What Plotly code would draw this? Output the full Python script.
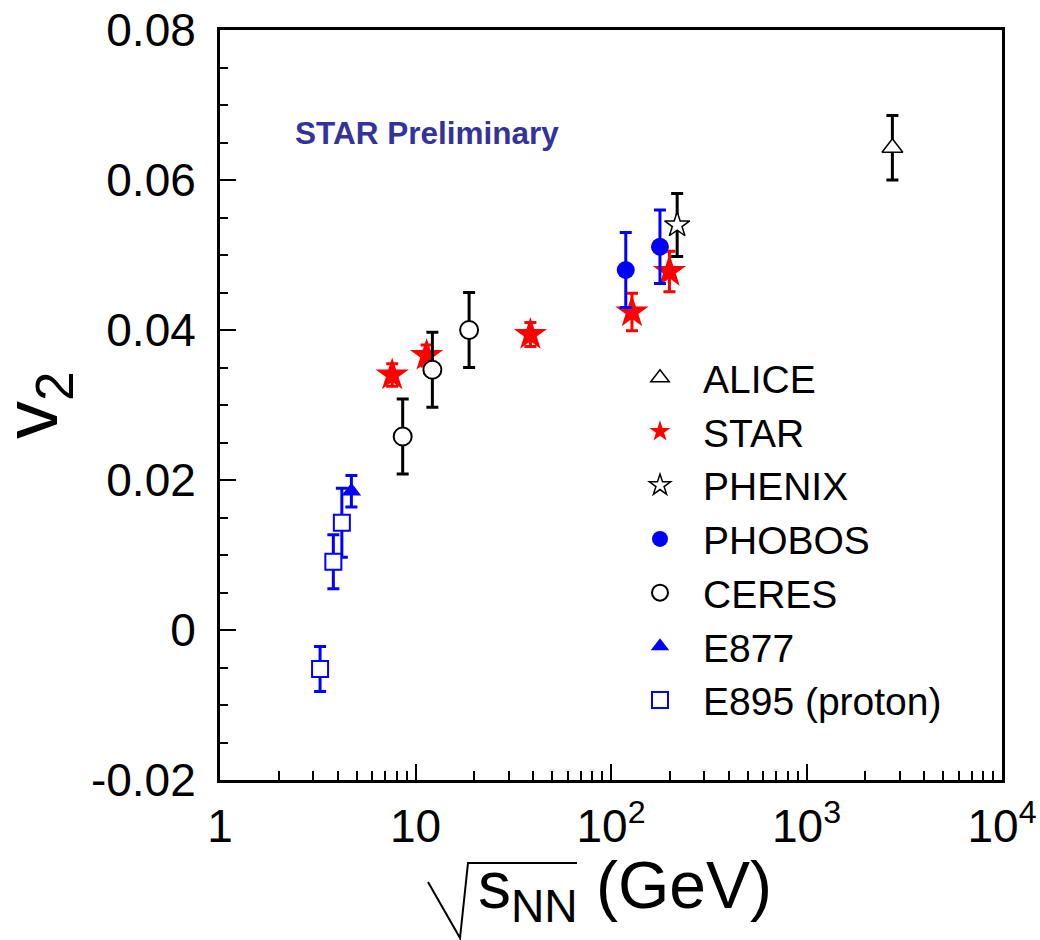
import plotly.graph_objects as go

# Elliptic flow v2 versus collision energy, several experiments
e895_x = [3.25, 3.8, 4.2]
e895_v2 = [-0.0052, 0.0091, 0.0143]
e895_err = [0.0030, 0.0036, 0.0046]

e877_x = [4.7]
e877_v2 = [0.0185]
e877_err = [0.0021]

star_x = [7.6, 11.4, 38.7, 128, 199]
star_v2 = [0.0340, 0.0366, 0.0394, 0.0424, 0.0478]
star_err = [0.0015, 0.0014, 0.0016, 0.0025, 0.0027]

ceres_x = [8.6, 12.2, 18.8]
ceres_v2 = [0.0258, 0.0347, 0.0400]
ceres_err = [0.0050, 0.0050, 0.0050]

phobos_x = [119, 178]
phobos_v2 = [0.0480, 0.0511]
phobos_err = [0.0050, 0.0049]

phenix_x = [218]
phenix_v2 = [0.0540]
phenix_err = [0.0042]

alice_x = [2750]
alice_v2 = [0.0643]
alice_err = [0.0043]

x_tickvals = [1, 10, 100, 1000, 10000]
x_ticktext = ["1", "10", "10<sup>2</sup>", "10<sup>3</sup>", "10<sup>4</sup>"]
x_minor = [m * d for d in (1, 10, 100, 1000) for m in range(2, 10)]
y_tickvals = [-0.02, 0.0, 0.02, 0.04, 0.06, 0.08]
y_ticktext = ["-0.02", "0", "0.02", "0.04", "0.06", "0.08"]
y_minor = [round(-0.02 + 0.005 * i, 3) for i in range(21)]

FONT = "Liberation Sans, Arial, Helvetica, sans-serif"
BLUE = "#0000ff"
RED = "#ff0000"


def series(name, x, y, err, color, symbol, size, fill, lw, rank):
    return go.Scatter(
        x=x, y=y, mode="markers", name=name, legendrank=rank,
        marker=dict(symbol=symbol, size=size, color=fill,
                    line=dict(color=color, width=lw)),
        error_y=dict(type="data", array=err, visible=True,
                     color=color, thickness=3, width=6),
    )


fig = go.Figure()
fig.add_trace(series("E895 (proton)", e895_x, e895_v2, e895_err, BLUE, "square", 16, "white", 2, 7))
fig.add_trace(series("E877", e877_x, e877_v2, e877_err, BLUE, "triangle-up", 17, BLUE, 0, 6))
fig.add_trace(series("STAR", star_x, star_v2, star_err, RED, "star", 25, RED, 0, 2))
fig.add_trace(series("CERES", ceres_x, ceres_v2, ceres_err, "black", "circle", 18, "white", 2, 5))
fig.add_trace(series("PHOBOS", phobos_x, phobos_v2, phobos_err, BLUE, "circle", 18, BLUE, 0, 4))
fig.add_trace(series("PHENIX", phenix_x, phenix_v2, phenix_err, "black", "star", 19, "white", 1.5, 3))
fig.add_trace(series("ALICE", alice_x, alice_v2, alice_err, "black", "triangle-up", 18, "white", 1.5, 1))

L, R, T, B = 220, 38, 30, 160
W, H = 1040, 940
PW, PH = W - L - R, H - T - B


def px(xp):
    return (xp - L) / PW


def py(yp):
    return (H - B - yp) / PH


fig.update_layout(
    width=W, height=H,
    margin=dict(l=L, r=R, t=T, b=B, autoexpand=False),
    paper_bgcolor="white", plot_bgcolor="white",
    font=dict(family=FONT, color="black"),
    showlegend=True,
    legend=dict(
        x=px(617), y=py(346), xanchor="left", yanchor="top",
        font=dict(size=39, family=FONT, color="black"),
        itemwidth=76, bgcolor="rgba(0,0,0,0)", borderwidth=0,
        traceorder="normal",
    ),
    xaxis=dict(
        type="log", range=[0, 4], automargin=False,
        tickmode="array", tickvals=x_tickvals, ticktext=x_ticktext,
        ticks="inside", ticklen=16, tickwidth=2, tickcolor="black",
        minor=dict(tickmode="array", tickvals=x_minor, ticks="inside",
                   ticklen=9, tickwidth=2, tickcolor="black", showgrid=False),
        showline=True, linewidth=3, linecolor="black", mirror=True,
        showgrid=False, zeroline=False,
        tickfont=dict(size=46, family=FONT), ticklabelstandoff=4,
    ),
    yaxis=dict(
        range=[-0.02, 0.08], automargin=False,
        tickmode="array", tickvals=y_tickvals, ticktext=y_ticktext,
        ticks="inside", ticklen=16, tickwidth=2, tickcolor="black",
        minor=dict(tickmode="array", tickvals=y_minor, ticks="inside",
                   ticklen=8, tickwidth=2, tickcolor="black", showgrid=False),
        showline=True, linewidth=3, linecolor="black", mirror=True,
        showgrid=False, zeroline=False,
        tickfont=dict(size=46, family=FONT), ticklabelstandoff=12,
    ),
)

# Axis titles and the preliminary label
fig.add_annotation(
    xref="paper", yref="paper", x=px(36), y=py(405),
    text="v<sub>2</sub>", textangle=-90, showarrow=False,
    font=dict(size=76, family=FONT, color="black"),
    xanchor="center", yanchor="middle",
)
fig.add_annotation(
    xref="paper", yref="paper", x=px(476), y=py(890),
    text="s<sub>NN</sub> (GeV)", showarrow=False,
    font=dict(size=66, family=FONT, color="black"),
    xanchor="left", yanchor="middle",
)
fig.add_annotation(
    xref="paper", yref="paper", x=px(427), y=py(133),
    text="<b>STAR Preliminary</b>", showarrow=False,
    font=dict(size=31.5, family=FONT, color="#333399"),
    xanchor="center", yanchor="middle",
)

# Radical sign over s_NN
fig.add_shape(
    type="path", xref="paper", yref="paper",
    path=(f"M {px(428)},{py(882)} L {px(460)},{py(938)} "
          f"L {px(468)},{py(863)} L {px(577)},{py(863)}"),
    line=dict(color="black", width=2),
)

fig.write_html("out.html")
